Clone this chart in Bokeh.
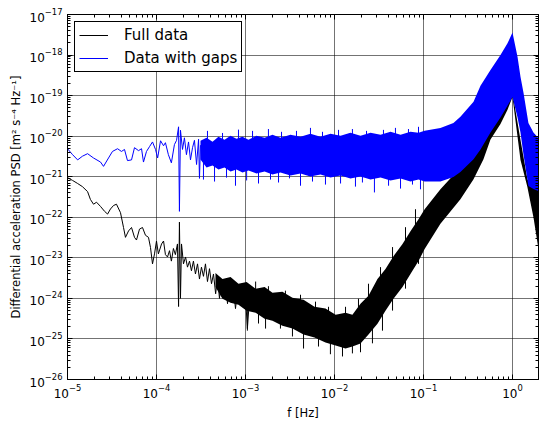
from bokeh.plotting import figure
from bokeh.models import FixedTicker, LogAxis, CustomJSTickFormatter, Range1d
from bokeh.embed import file_html
from bokeh.resources import INLINE

# ---------------- data ----------------
# Full data: low-frequency resolved part of the spectrum
full_f = [1.00e-5, 1.14e-5, 1.30e-5, 1.47e-5, 1.68e-5, 1.81e-5, 1.96e-5, 2.12e-5, 2.35e-5, 2.61e-5,
          2.82e-5, 3.04e-5, 3.29e-5, 3.55e-5, 3.94e-5, 4.26e-5, 4.48e-5, 4.85e-5, 5.24e-5, 5.66e-5,
          5.96e-5, 6.44e-5, 6.96e-5, 7.52e-5, 8.13e-5, 8.56e-5, 9.02e-5, 9.50e-5, 1.00e-4, 1.05e-4,
          1.14e-4, 1.20e-4, 1.26e-4, 1.33e-4, 1.40e-4, 1.47e-4, 1.55e-4, 1.63e-4, 1.72e-4, 1.77e-4,
          1.81e-4, 1.86e-4, 1.91e-4, 2.01e-4, 2.12e-4, 2.23e-4, 2.35e-4, 2.47e-4, 2.60e-4, 2.74e-4,
          2.89e-4, 3.04e-4, 3.20e-4, 3.37e-4, 3.55e-4, 3.74e-4, 3.94e-4, 4.15e-4, 4.37e-4, 4.62e-4,
          4.85e-4, 5.10e-4, 5.38e-4, 5.66e-4, 5.96e-4, 6.28e-4, 6.61e-4, 6.96e-4, 7.33e-4, 7.72e-4,
          8.13e-4, 8.56e-4, 9.02e-4, 9.50e-4, 1.00e-3, 1.05e-3, 1.11e-3]
full_psd = [9.5e-22, 8.1e-22, 6.8e-22, 5.7e-22, 4.3e-22, 2.75e-22, 2.1e-22, 2.35e-22, 1.85e-22, 1.4e-22,
            1.2e-22, 1.6e-22, 1.95e-22, 2.1e-22, 1.3e-22, 5.6e-23, 3.2e-23, 4.6e-23, 5.6e-23, 3.2e-23,
            2.75e-23, 5.1e-23, 5.6e-23, 3.6e-23, 3.2e-23, 1.8e-23, 7.1e-24, 1.25e-23, 2.6e-23, 1.25e-23,
            2.2e-23, 2.6e-23, 1.2e-23, 1.05e-23, 1.5e-23, 8.3e-24, 1.7e-23, 1.2e-23, 2.2e-23, 6.3e-25,
            7.6e-23, 1.0e-24, 2.2e-23, 7.1e-24, 1.05e-23, 5.9e-24, 8.3e-24, 4.8e-24, 8.3e-24, 4.0e-24,
            7.1e-24, 3.0e-24, 5.9e-24, 3.5e-24, 7.1e-24, 2.6e-24, 5.4e-24, 2.3e-24, 4.0e-24, 1.3e-24,
            3.4e-24, 1.0e-24, 2.7e-24, 1.25e-24, 2.3e-24, 7.4e-25, 2.0e-24, 1.0e-24, 1.7e-24, 5.6e-25,
            1.55e-24, 7.4e-25, 1.3e-24, 9.0e-25, 1.1e-24, 1.8e-25, 1.0e-24]

# Full data: dense noisy part, lower / upper envelope
full_band_f = [4.60e-4, 5.51e-4, 6.79e-4, 8.34e-4, 1.03e-3, 1.30e-3, 1.64e-3, 2.01e-3, 2.60e-3, 3.37e-3,
               4.49e-3, 5.96e-3, 7.92e-3, 1.03e-2, 1.33e-2, 1.59e-2, 1.96e-2, 2.41e-2, 3.04e-2, 3.74e-2,
               4.60e-2, 5.81e-2, 7.14e-2, 8.79e-2, 0.103, 0.155, 0.26, 0.365, 0.472, 0.566,
               0.733, 0.879, 1.0, 1.23, 1.47, 1.72, 2.06]
full_band_lo = [1.92e-24, 9.8e-25, 7.8e-25, 6.97e-25, 4.97e-25, 4.4e-25, 3.16e-25, 2.82e-25, 2.13e-25, 1.8e-25,
                1.28e-25, 1.08e-25, 8.2e-26, 6.9e-26, 5.8e-26, 6.5e-26, 7.7e-26, 1.28e-25, 2.38e-25, 4.97e-25,
                9.8e-25, 1.92e-24, 4.0e-24, 8.4e-24, 1.64e-23, 6.9e-23, 2.8e-22, 8.7e-22, 2.7e-21, 8.3e-21,
                2.0e-20, 4.5e-20, 9.3e-20, 2.6e-21, 5.6e-22, 1.0e-22, 8.1e-24]
full_band_hi = [4.24e-24, 3.02e-24, 3.38e-24, 2.28e-24, 2.55e-24, 1.72e-24, 1.92e-24, 1.37e-24, 1.45e-24, 1.03e-24,
                9.2e-25, 6.2e-25, 5.6e-25, 3.96e-25, 4.4e-25, 3.96e-25, 7.4e-25, 1.16e-24, 3.02e-24, 5.3e-24,
                1.1e-23, 2.18e-23, 4.5e-23, 8.9e-23, 1.57e-22, 4.9e-22, 1.7e-21, 4.7e-21, 1.1e-20, 2.3e-20,
                5.0e-20, 7.9e-20, 1.17e-19, 8.1e-21, 8.7e-22, 5.6e-22, 4.5e-22]
# Full data: individual spikes sticking out of the noisy part
full_spike_f = [1.05e-3, 1.40e-3, 1.68e-3, 2.47e-3, 3.37e-3, 4.49e-3, 6.61e-3, 9.0e-3, 1.23e-2, 1.59e-2,
                1.96e-2, 2.67e-2, 3.46e-2, 4.49e-2, 6.28e-2, 8.79e-2,
                1.30e-3, 1.81e-3, 2.81e-3, 4.15e-3, 6.12e-3, 8.57e-3, 1.33e-2, 1.86e-2, 2.41e-2, 3.29e-2,
                4.49e-2, 6.28e-2, 8.13e-2]
full_spike_base = [7.4e-25, 7.4e-25, 6.2e-25, 5.0e-25, 4.0e-25, 3.2e-25, 2.24e-25, 1.7e-25, 1.5e-25, 1.6e-25,
                   2.1e-25, 4.2e-25, 8.3e-25, 2.7e-24, 8.3e-24, 2.45e-23,
                   8.3e-25, 6.2e-25, 4.7e-25, 3.5e-25, 2.4e-25, 1.8e-25, 1.5e-25, 2.0e-25, 3.5e-25, 7.4e-25,
                   2.7e-24, 8.3e-24, 2.45e-23]
full_spike_tip = [1.6e-25, 2.4e-25, 1.8e-25, 1.8e-25, 1.15e-25, 5.8e-26, 6.5e-26, 4.2e-26, 3.7e-26, 4.4e-26,
                  4.7e-26, 7.8e-26, 1.6e-25, 5.0e-25, 1.74e-24, 7.1e-24,
                  2.6e-24, 2.0e-24, 1.55e-24, 1.23e-24, 8.3e-25, 6.2e-25, 6.2e-25, 9.8e-25, 2.3e-24, 5.9e-24,
                  1.84e-23, 5.7e-23, 1.58e-22]

# Data with gaps: low-frequency resolved part
gaps_f = [1.00e-5, 1.14e-5, 1.30e-5, 1.47e-5, 1.68e-5, 1.96e-5, 2.35e-5, 2.54e-5, 2.89e-5, 3.20e-5,
          3.65e-5, 4.04e-5, 4.37e-5, 4.72e-5, 5.24e-5, 5.66e-5, 6.28e-5, 6.79e-5, 7.14e-5, 7.72e-5,
          8.34e-5, 9.02e-5, 9.75e-5, 1.03e-4, 1.11e-4, 1.20e-4, 1.26e-4, 1.36e-4, 1.47e-4, 1.59e-4,
          1.68e-4, 1.77e-4, 1.81e-4, 1.86e-4, 1.96e-4, 2.06e-4, 2.17e-4, 2.29e-4, 2.41e-4, 2.54e-4,
          2.67e-4, 2.82e-4, 2.97e-4, 3.04e-4, 3.12e-4]
gaps_psd = [4.9e-21, 3.5e-21, 2.6e-21, 3.2e-21, 3.7e-21, 2.9e-21, 2.3e-21, 1.8e-21, 2.9e-21, 4.2e-21,
            4.9e-21, 4.2e-21, 4.7e-21, 2.5e-21, 2.6e-21, 5.2e-21, 4.4e-21, 4.9e-21, 2.3e-21, 4.2e-21,
            5.5e-21, 7.2e-21, 4.7e-21, 2.9e-21, 7.7e-21, 5.8e-21, 6.9e-21, 3.5e-21, 2.2e-21, 6.2e-21,
            7.9e-21, 1.7e-20, 1.4e-22, 1.4e-20, 4.7e-21, 9.1e-21, 3.5e-21, 7.2e-21, 2.6e-21, 5.2e-21,
            7.9e-21, 2.0e-21, 8.4e-21, 9.1e-22, 6.0e-21]

# Data with gaps: dense noisy part, lower / upper envelope
gaps_band_f = [3.12e-4, 3.65e-4, 4.26e-4, 4.97e-4, 5.81e-4, 6.79e-4, 7.92e-4, 9.25e-4, 1.08e-3, 1.33e-3,
               1.64e-3, 2.01e-3, 2.47e-3, 3.20e-3, 4.15e-3, 5.37e-3, 6.96e-3, 9.02e-3, 1.17e-2, 1.51e-2,
               1.96e-2, 2.54e-2, 3.29e-2, 4.26e-2, 5.52e-2, 7.14e-2, 8.79e-2, 0.103, 0.155, 0.217,
               0.26, 0.365, 0.437, 0.566, 0.733, 0.879, 1.0, 1.14, 1.23, 1.33,
               1.51, 1.72, 2.06]
gaps_band_lo = [2.64e-21, 1.68e-21, 1.88e-21, 1.5e-21, 1.68e-21, 1.34e-21, 1.5e-21, 1.27e-21, 1.42e-21, 1.2e-21,
                1.34e-21, 1.13e-21, 1.27e-21, 1.07e-21, 1.2e-21, 1.01e-21, 1.13e-21, 9.55e-22, 1.07e-21, 9.0e-22,
                1.01e-21, 8.5e-22, 9.55e-22, 8.1e-22, 9.0e-22, 7.6e-22, 8.5e-22, 7.6e-22, 7.6e-22, 9.8e-22,
                1.3e-21, 2.7e-21, 4.7e-21, 1.23e-20, 2.9e-20, 5.6e-20, 9.3e-20, 2.9e-20, 1.23e-20, 3.5e-21,
                5.9e-22, 5.0e-22, 4.2e-22]
gaps_band_hi = [7.7e-21, 9.1e-21, 7.3e-21, 9.7e-21, 8.2e-21, 1.02e-20, 8.6e-21, 9.7e-21, 8.2e-21, 1.02e-20,
                9.1e-21, 1.08e-20, 9.1e-21, 1.08e-20, 9.7e-21, 1.145e-20, 9.7e-21, 1.145e-20, 1.02e-20, 1.21e-20,
                1.02e-20, 1.21e-20, 1.08e-20, 1.28e-20, 1.08e-20, 1.28e-20, 1.21e-20, 1.355e-20, 1.6e-20, 2.1e-20,
                3.0e-20, 7.1e-20, 1.75e-19, 4.3e-19, 1.0e-18, 1.95e-18, 3.6e-18, 8.9e-19, 2.9e-19, 1.17e-19,
                2.1e-20, 1.23e-20, 7.9e-21]
# Data with gaps: individual spikes sticking out of the noisy part
gaps_spike_f = [3.74e-4, 5.52e-4, 8.34e-4, 1.20e-3, 1.81e-3, 2.54e-3, 3.74e-3, 5.37e-3, 7.33e-3, 1.11e-2,
                1.59e-2, 2.29e-2, 3.55e-2, 4.84e-2, 6.78e-2, 8.79e-2,
                3.37e-4, 4.49e-4, 6.12e-4, 7.72e-4, 1.03e-3, 1.40e-3, 1.91e-3, 2.35e-3, 3.12e-3, 4.15e-3,
                5.66e-3, 7.92e-3, 1.17e-2, 1.72e-2, 2.06e-2, 2.81e-2, 4.05e-2, 5.52e-2, 7.52e-2, 9.25e-2]
gaps_spike_base = [3.0e-21] * 36
gaps_spike_tip = [1.35e-20, 1.2e-20, 1.45e-20, 1.35e-20, 1.5e-20, 1.28e-20, 1.35e-20, 1.6e-20, 1.28e-20, 1.43e-20,
                  1.5e-20, 1.35e-20, 1.43e-20, 1.6e-20, 1.5e-20, 1.7e-20,
                  8.5e-22, 7.6e-22, 9.5e-22, 6.0e-22, 8.1e-22, 6.8e-22, 8.5e-22, 7.2e-22, 9.1e-22, 6.0e-22,
                  7.6e-22, 6.4e-22, 6.8e-22, 5.7e-22, 7.2e-22, 4.1e-22, 6.0e-22, 5.1e-22, 6.4e-22, 4.9e-22]

# axes
x_ticks = [1e-5, 1e-4, 1e-3, 1e-2, 1e-1, 1e0]
y_ticks = [1e-26, 1e-25, 1e-24, 1e-23, 1e-22, 1e-21, 1e-20, 1e-19, 1e-18, 1e-17]
x_label = "f [Hz]"
y_label = "Differential acceleration PSD [m\u00b2 s\u207b\u2074 Hz\u207b\u00b9]"
series_names = ["Full data", "Data with gaps"]
BLACK = "#000000"
BLUE = "#0000ff"

assert len(full_band_f) == len(full_band_lo) == len(full_band_hi)
assert len(gaps_band_f) == len(gaps_band_lo) == len(gaps_band_hi)
assert len(full_f) == len(full_psd) and len(gaps_f) == len(gaps_psd)
assert len(full_spike_f) == len(full_spike_base) == len(full_spike_tip)
assert len(gaps_spike_f) == len(gaps_spike_base) == len(gaps_spike_tip)

x_minor = [m * t for t in x_ticks for m in range(2, 10)]
y_minor = [m * t for t in y_ticks[:-1] for m in range(2, 10)]

FONT = "DejaVu Sans"

p = figure(width=540, height=422, x_axis_type="log", y_axis_type="log",
           x_range=Range1d(1e-5, 1.96), y_range=Range1d(1e-26, 1e-17),
           output_backend="svg", toolbar_location=None,
           min_border_left=67, min_border_right=2, min_border_top=14, min_border_bottom=41)
p.background_fill_color = "white"
p.border_fill_color = "white"
p.outline_line_color = "black"
p.outline_line_width = 1
p.outline_line_alpha = 1

xt = FixedTicker(ticks=x_ticks, minor_ticks=x_minor)
yt = FixedTicker(ticks=y_ticks, minor_ticks=y_minor)

def style_axis(ax, ticker):
    ax.ticker = ticker
    ax.major_tick_in = 5
    ax.major_tick_out = 0
    ax.minor_tick_in = 3
    ax.minor_tick_out = 0
    ax.major_tick_line_color = "black"
    ax.minor_tick_line_color = "black"
    ax.axis_line_color = "black"
    ax.major_label_text_font = FONT
    ax.major_label_text_font_size = "12px"
    ax.major_label_text_color = "black"
    ax.axis_label_text_font = FONT
    ax.axis_label_text_font_size = "11.5px"
    ax.axis_label_text_font_style = "normal"
    ax.axis_label_text_color = "black"

style_axis(p.xaxis[0], xt)
style_axis(p.yaxis[0], yt)
p.xaxis[0].axis_label = x_label
p.yaxis[0].axis_label = y_label
p.xaxis[0].major_label_standoff = 4
p.xaxis[0].axis_label_standoff = 5
p.yaxis[0].major_label_standoff = 5
p.yaxis[0].axis_label_standoff = 4

for loc, tk in (("above", xt), ("right", yt)):
    ax = LogAxis()
    style_axis(ax, tk)
    ax.formatter = CustomJSTickFormatter(code="return '';")
    ax.major_label_text_font_size = "0px"
    ax.major_label_standoff = 0
    p.add_layout(ax, loc)

p.xgrid.ticker = xt
p.ygrid.ticker = yt
for g in (p.xgrid[0], p.ygrid[0]):
    g.grid_line_color = "black"
    g.grid_line_alpha = 0.55
    g.grid_line_width = 1

# Full data (black)
p.varea(x=full_band_f, y1=full_band_lo, y2=full_band_hi, fill_color=BLACK, fill_alpha=1)
p.segment(x0=full_spike_f, y0=full_spike_base, x1=full_spike_f, y1=full_spike_tip,
          line_color=BLACK, line_width=1)
p.line(full_f, full_psd, line_color=BLACK, line_width=1, line_join="round",
       legend_label=series_names[0])

# Data with gaps (blue)
p.varea(x=gaps_band_f, y1=gaps_band_lo, y2=gaps_band_hi, fill_color=BLUE, fill_alpha=1)
p.segment(x0=gaps_spike_f, y0=gaps_spike_base, x1=gaps_spike_f, y1=gaps_spike_tip,
          line_color=BLUE, line_width=1)
p.line(gaps_f, gaps_psd, line_color=BLUE, line_width=1, line_join="round",
       legend_label=series_names[1])

lg = p.legend[0]
lg.location = "top_left"
lg.margin = 7
lg.padding = 4
lg.spacing = 5
lg.glyph_width = 29
lg.glyph_height = 18
lg.label_height = 18
lg.label_standoff = 16
lg.label_text_font = FONT
lg.label_text_font_size = "15px"
lg.label_text_color = "black"
lg.border_line_color = "black"
lg.border_line_width = 1
lg.border_line_alpha = 1
lg.background_fill_color = "white"
lg.background_fill_alpha = 1

open("out.html", "w").write(file_html(p, INLINE))
